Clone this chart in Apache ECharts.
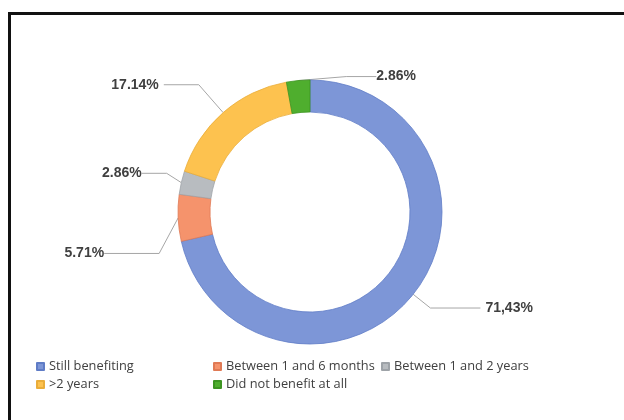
<!DOCTYPE html>
<html>
<head>
<meta charset="utf-8">
<script src="https://cdn.jsdelivr.net/npm/echarts@6/dist/echarts.min.js"></script>
<style>
  html, body { margin: 0; padding: 0; background: #fff; }
  #main { position: absolute; left: 0; top: 0; width: 624px; height: 420px; }
  #frame { position: absolute; left: 8px; top: 12px; width: 640px; height: 420px;
           border-top: 3px solid #111; border-left: 3px solid #111; pointer-events: none; }
</style>
</head>
<body>
<div id="main"></div>
<div id="frame"></div>
<script>
// share of respondents per answer
var categories = ['Still benefiting', 'Between 1 and 6 months', 'Between 1 and 2 years', '>2 years', 'Did not benefit at all'];
var values = [71.43, 5.71, 2.86, 17.14, 2.86];
var labelTexts = ['71,43%', '5.71%', '2.86%', '17.14%', '2.86%'];

var colors = ['#7d96d7', '#f5936c', '#b8bcc0', '#fdc24f', '#4fae2e'];
var borders = ['#5f7cc6', '#e07a55', '#9ea3a8', '#eaad3a', '#3d9422'];
var lineLen = [[22, 50], [12, 55], [15, 25], [37, 35], [10, 30]];
// nudges for labels that excel placed by hand: [dx, dy, align]
var labelShift = [null, [-2, 35, 'right'], [5, -6, 'right'], null, [114, 6, 'left']];

var myChart = echarts.init(document.getElementById('main'));

var pieData = [];
for (var i = 0; i < categories.length; i++) {
    pieData.push({
        name: categories[i],
        value: values[i],
        itemStyle: { color: colors[i], borderColor: borders[i], borderWidth: 0.8 },
        label: { formatter: labelTexts[i] },
        labelLine: { length: lineLen[i][0], length2: lineLen[i][1] }
    });
}

var legendText = { color: '#404040', fontSize: 12.8, fontFamily: 'Open Sans, Liberation Sans, sans-serif' };
var legendBase = { orient: 'vertical', top: 355, itemWidth: 7, itemHeight: 7, itemGap: 5,
                   icon: 'rect', textStyle: legendText };

var option = {
    animation: false,
    legend: [
        Object.assign({ data: [categories[0], categories[3]], left: 31 }, legendBase),
        Object.assign({ data: [categories[1], categories[4]], left: 208 }, legendBase),
        Object.assign({ data: [categories[2]], left: 376 }, legendBase)
    ],
    series: [
        {
            type: 'pie',
            center: [310, 212],
            radius: [100, 132],
            startAngle: 90,
            clockwise: true,
            avoidLabelOverlap: false,
            label: {
                show: true,
                position: 'outside',
                color: '#404040',
                fontSize: 14,
                fontWeight: 'bold',
                fontFamily: 'Liberation Sans, Arial, sans-serif'
            },
            labelLine: {
                show: true,
                lineStyle: { color: '#a6a6a6', width: 1 }
            },
            labelLayout: function (params) {
                var s = labelShift[params.dataIndex];
                if (!s) return {};
                var r = params.labelRect;
                var anchorX = params.align === 'left' ? r.x : r.x + r.width;
                return {
                    x: anchorX + s[0],
                    y: r.y + r.height / 2 + s[1],
                    align: s[2],
                    verticalAlign: 'middle'
                };
            },
            data: pieData
        }
    ]
};

myChart.setOption(option);
</script>
</body>
</html>
